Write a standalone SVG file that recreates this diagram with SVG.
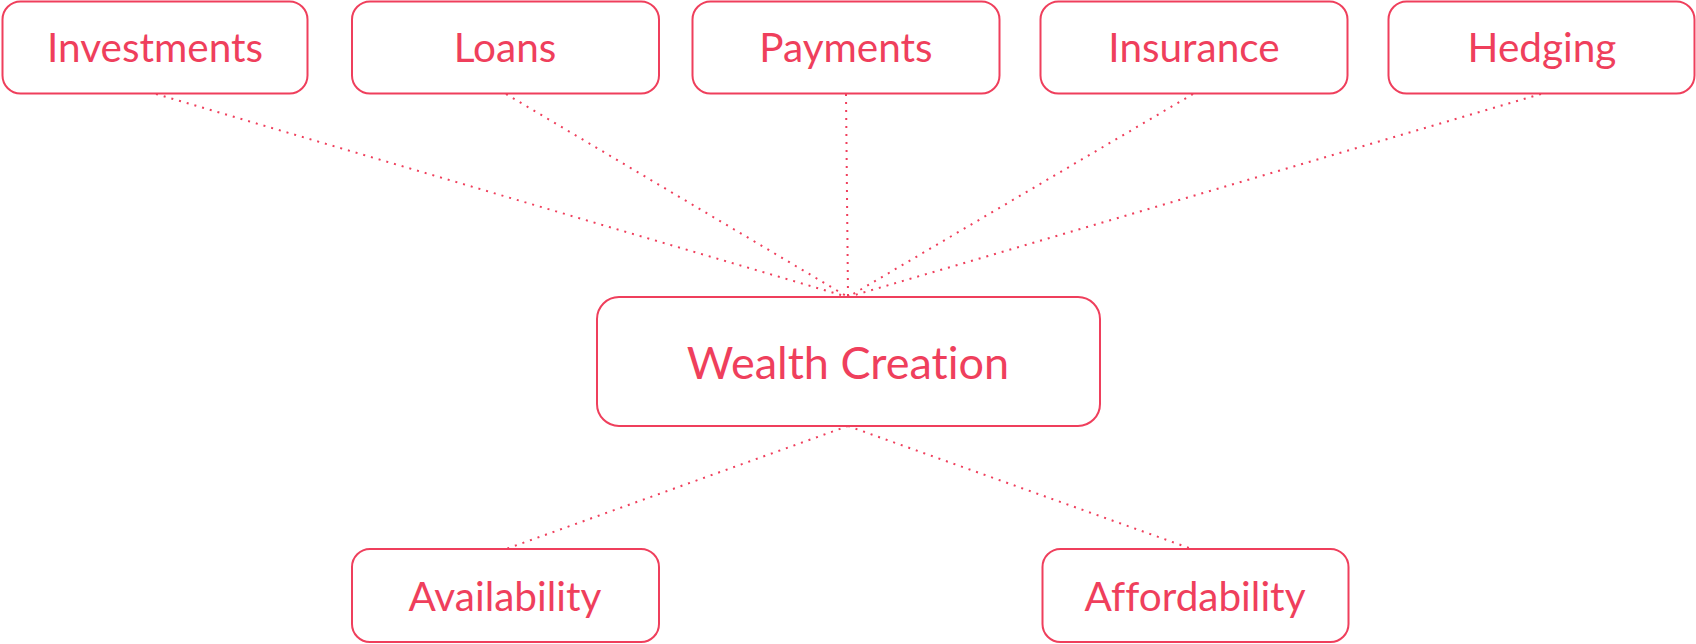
<svg xmlns="http://www.w3.org/2000/svg" width="1696" height="644" viewBox="0 0 1696 644">
<style>
.box{fill:#fff;stroke:#EF3F5C;stroke-width:2}
.lbl{fill:#EF3F5C;font-family:Lato,"Noto Sans",sans-serif;font-size:40.5px;text-anchor:middle;font-variant-ligatures:none;font-feature-settings:"liga" 0}
.big{font-size:45px}
.con{stroke:#EF3F5C;stroke-width:2;stroke-dasharray:2 6;fill:none}
</style>
<rect width="1696" height="644" fill="#fff"/>
<g id="connectors">
<line class="con" x1="156" y1="94" x2="848" y2="297"/>
<line class="con" x1="506" y1="94" x2="848" y2="297"/>
<line class="con" x1="846" y1="94" x2="848" y2="297"/>
<line class="con" x1="1193" y1="94" x2="848" y2="297"/>
<line class="con" x1="1541" y1="94" x2="848" y2="297"/>
<line class="con" x1="848" y1="426" x2="506" y2="549"/>
<line class="con" x1="848" y1="426" x2="1192" y2="549"/>
</g>
<g id="investments"><rect class="box" x="2.5" y="1.5" width="305" height="92" rx="18"/><text class="lbl" x="155" y="62">Investments</text></g>
<g id="loans"><rect class="box" x="352" y="1.5" width="307" height="92" rx="18"/><text class="lbl" x="505" y="62">Loans</text></g>
<g id="payments"><rect class="box" x="692.5" y="1.5" width="307" height="92" rx="18"/><text class="lbl" x="846" y="62">Payments</text></g>
<g id="insurance"><rect class="box" x="1040.5" y="1.5" width="307" height="92" rx="18"/><text class="lbl" x="1194" y="62">Insurance</text></g>
<g id="hedging"><rect class="box" x="1388.5" y="1.5" width="306" height="92" rx="18"/><text class="lbl" x="1542" y="62">Hedging</text></g>
<g id="wealth-creation"><rect class="box" x="597" y="297" width="503" height="129" rx="22"/><text class="lbl big" x="848" y="379">Wealth Creation</text></g>
<g id="availability"><rect class="box" x="352" y="549" width="307" height="93" rx="18"/><text class="lbl" x="505" y="611">Availability</text></g>
<g id="affordability"><rect class="box" x="1042.5" y="549" width="306" height="93" rx="18"/><text class="lbl" x="1195" y="611">Affordability</text></g>
</svg>
